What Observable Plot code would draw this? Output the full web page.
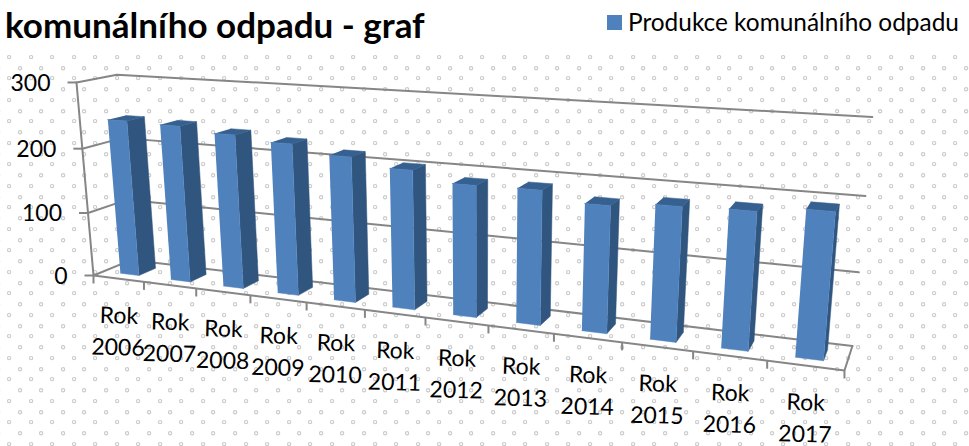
<!DOCTYPE html>
<html lang="cs">
<head>
<meta charset="utf-8">
<script src="https://cdn.jsdelivr.net/npm/d3@7"></script>
<script src="https://cdn.jsdelivr.net/npm/@observablehq/plot@0.6"></script>
<style>
  html, body { margin: 0; padding: 0; background: #fff; overflow: hidden; }
  #head { position: relative; height: 54px; width: 969px; font-family: Lato, sans-serif; }
  #title { position: absolute; left: 5px; top: 3px; margin: 0; font-size: 35px; line-height: 42px; font-weight: 700; color: #000; white-space: nowrap; }
  #legend { position: absolute; left: 607px; top: 9px; display: flex; align-items: center; gap: 6px; font-size: 24.4px; line-height: 26px; color: #000; white-space: nowrap; }
  #legend i { display: block; width: 15px; height: 15px; background: #4f81bd; }
  svg { display: block; }
</style>
</head>
<body>
<div id="head">
  <h1 id="title">komunálního odpadu - graf</h1>
  <div id="legend"><i></i><span>Produkce komunálního odpadu</span></div>
</div>
<div id="chart"></div>
<script>
const years = [2006, 2007, 2008, 2009, 2010, 2011, 2012, 2013, 2014, 2015, 2016, 2017];
const production = [242, 240, 233, 226, 214, 202, 188, 189, 176, 183, 185, 193];
const valueTicks = [0, 100, 200, 300];

// Perspective camera of the 3-D chart: category position u, depth v, value h (in hundreds).
function project(u, v, value) {
  const h = value / 100;
  const w = 1 - 0.0173 * u + 0.044 * v - 0.0141 * h;
  return {
    x: (93 + 47.98 * u + 43.76 * v - 6.74 * h) / w,
    y: (275 + 1.516 * u - 4.2 * v - 65.5 * h) / w
  };
}

const maxU = years.length, maxV = valueTicks[valueTicks.length - 1];
const barU0 = 0.33, barU1 = 0.70, barV0 = 0.27, barV1 = 0.72;

// Wall and floor lines
const frame = [];
valueTicks.forEach(t => {
  [[0, 0], [0, 1], [maxU, 1]].forEach(([u, v]) => frame.push({id: "g" + t, ...project(u, v, t)}));
});
[[0, 0, 0], [0, 0, maxV]].forEach(([u, v, h]) => frame.push({id: "axisY", ...project(u, v, h)}));
[[0, 0], [maxU, 0], [maxU, 1]].forEach(([u, v]) => frame.push({id: "floor", ...project(u, v, 0)}));

// Bar faces
const face = (id, pts) => pts.map(p => ({id, ...project(...p)}));
const sides = [], tops = [], fronts = [];
production.forEach((val, i) => {
  const a = i + barU0, b = i + barU1;
  sides.push(...face("s" + i, [[b, barV0, 0], [b, barV1, 0], [b, barV1, val], [b, barV0, val]]));
  tops.push(...face("t" + i, [[a, barV0, val], [b, barV0, val], [b, barV1, val], [a, barV1, val]]));
  fronts.push(...face("f" + i, [[a, barV0, 0], [b, barV0, 0], [b, barV0, val], [a, barV0, val]]));
});

const xTickRows = d3.range(maxU + 1).map(u => project(u, 0, 0));
const yTickRows = valueTicks.map(t => ({t, ...project(0, 0, t)}));
const labelRows = years.map((yr, i) => ({text: "Rok\n" + yr, ...project(i + 0.5, 0, 0)}));

const tile = `<svg xmlns="http://www.w3.org/2000/svg" width="21.5" height="21.5"><g fill="#fff" stroke="#cacaca" stroke-width="1.1"><circle cx="5" cy="5" r="1.6"/><circle cx="15.75" cy="15.9" r="1.6"/></g></svg>`;

const font = "Lato, sans-serif";
const plot = Plot.plot({
  width: 969,
  height: 392,
  margin: 0,
  x: {domain: [0, 969], range: [0, 969], axis: null},
  y: {domain: [54, 446], range: [0, 392], axis: null},
  style: {
    background: `url("data:image/svg+xml,${encodeURIComponent(tile)}") 4.2px -2px`,
    overflow: "visible"
  },
  marks: [
    Plot.line(frame, {x: "x", y: "y", z: "id", stroke: "#868686", strokeWidth: 2}),
    Plot.link(yTickRows, {x1: d => d.x - 9, x2: "x", y1: "y", y2: "y", stroke: "#868686", strokeWidth: 2}),
    Plot.link(xTickRows, {x1: "x", x2: "x", y1: "y", y2: d => d.y + 8, stroke: "#868686", strokeWidth: 2}),
    Plot.line(sides, {x: "x", y: "y", z: "id", fill: "#30557f", stroke: "#30557f", strokeWidth: 0.5}),
    Plot.line(tops, {x: "x", y: "y", z: "id", fill: "#36608f", stroke: "#36608f", strokeWidth: 0.5}),
    Plot.line(fronts, {x: "x", y: "y", z: "id", fill: "#4f81bd", stroke: "#4f81bd", strokeWidth: 0.5}),
    Plot.text(yTickRows, {x: "x", y: "y", text: d => String(d.t), dx: -26, dy: 1, textAnchor: "end", fontSize: 23, fontFamily: font, fill: "#000"}),
    Plot.text(labelRows, {x: "x", y: "y", text: "text", dy: 50.5, rotate: 1.5, textAnchor: "middle", lineAnchor: "middle", lineHeight: 1.38, fontSize: 23, fontFamily: font, fill: "#000"})
  ]
});
document.getElementById("chart").append(plot);
</script>
</body>
</html>
